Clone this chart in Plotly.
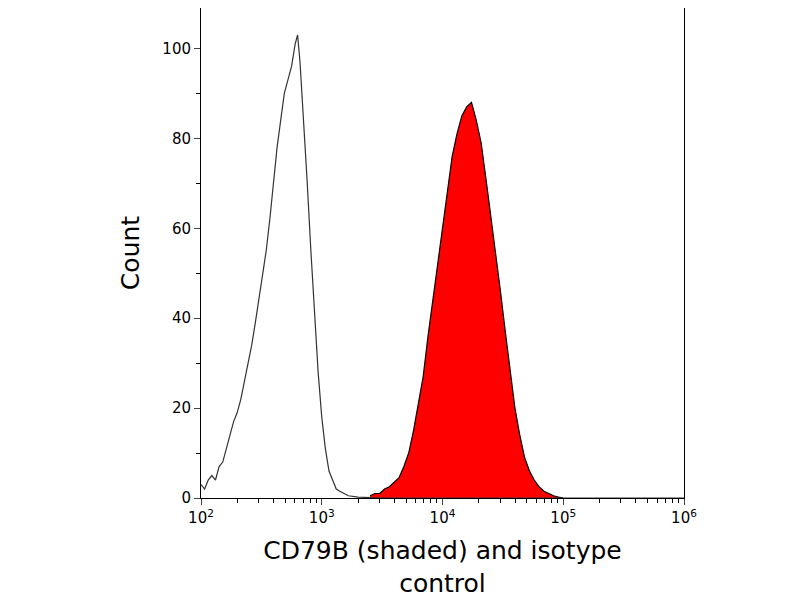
import plotly.graph_objects as go

# isotype control histogram (log10 intensity, count)
iso_exp = [2.00, 2.03, 2.06, 2.09, 2.12, 2.15, 2.18, 2.21, 2.24, 2.27, 2.30, 2.33, 2.36, 2.39,
           2.42, 2.45, 2.48, 2.51, 2.54, 2.57, 2.60, 2.63, 2.66, 2.69, 2.72, 2.75, 2.78, 2.80,
           2.82, 2.85, 2.88, 2.91, 2.94, 2.97, 3.00, 3.03, 3.06, 3.09, 3.12, 3.15, 3.18, 3.22,
           3.30, 3.50, 4.00, 5.00, 6.00]
iso_count = [3, 2, 4, 5, 4, 7, 8, 11, 14, 17, 19, 22, 26, 30,
             34, 39, 44, 49, 55, 62, 70, 78, 84, 90, 93, 96, 101, 103,
             97, 84, 70, 55, 40, 28, 18, 11, 6, 4, 2, 1.5, 1, 0.5,
             0.2, 0, 0, 0, 0]

# CD79B stained histogram
cd_exp = [3.40, 3.44, 3.48, 3.52, 3.56, 3.60, 3.64, 3.68, 3.72, 3.76, 3.80, 3.84, 3.88, 3.92,
          3.96, 4.00, 4.04, 4.08, 4.12, 4.16, 4.20, 4.24, 4.28, 4.32, 4.36, 4.40, 4.44, 4.48,
          4.52, 4.56, 4.60, 4.64, 4.68, 4.72, 4.76, 4.80, 4.84, 4.88, 4.92, 4.96, 5.00]
cd_count = [0.5, 1, 1, 2, 2.5, 3.5, 4.5, 7, 10, 15, 21, 27, 36, 44,
            53, 61, 68, 76, 81, 85, 87, 88, 84, 79, 71, 63, 55, 46,
            37, 28, 20, 14, 9, 6, 4, 2.5, 1.5, 1, 0.5, 0.2, 0]

tick_vals = [1e2, 1e3, 1e4, 1e5, 1e6]
tick_text = ["10<sup>2</sup>", "10<sup>3</sup>", "10<sup>4</sup>", "10<sup>5</sup>", "10<sup>6</sup>"]
minor_vals = [m * d for d in [1e2, 1e3, 1e4, 1e5] for m in range(2, 10)]

fig = go.Figure()
fig.add_trace(go.Scatter(x=[10 ** e for e in cd_exp], y=cd_count, mode="lines",
                         fill="tozeroy", fillcolor="#ff0000",
                         line=dict(color="black", width=1.2)))
fig.add_trace(go.Scatter(x=[10 ** e for e in iso_exp], y=iso_count, mode="lines",
                         line=dict(color="#333333", width=1.2)))

fig.update_layout(
    width=800, height=600, showlegend=False,
    plot_bgcolor="white", paper_bgcolor="white",
    margin=dict(l=193, r=124, t=0, b=110),
    font=dict(family="DejaVu Sans", color="black", size=15),
)
fig.update_xaxes(type="log", range=[2, 6], tickvals=tick_vals, ticktext=tick_text,
                 ticks="outside", ticklen=6, showline=True, linecolor="black", mirror=True,
                 showgrid=False, zeroline=False,
                 minor=dict(ticks="outside", ticklen=4, tickcolor="black", tickvals=minor_vals),
                 title=dict(text="CD79B (shaded) and isotype<br>control", font=dict(size=25)))
fig.update_yaxes(range=[0, 109], tickvals=[0, 20, 40, 60, 80, 100],
                 ticks="outside", ticklen=6, showline=True, linecolor="black", mirror=True,
                 showgrid=False, zeroline=False,
                 minor=dict(ticks="outside", ticklen=4, dtick=10, tickcolor="black"),
                 title=dict(text="Count", font=dict(size=25)))

fig.write_html("out.html")
